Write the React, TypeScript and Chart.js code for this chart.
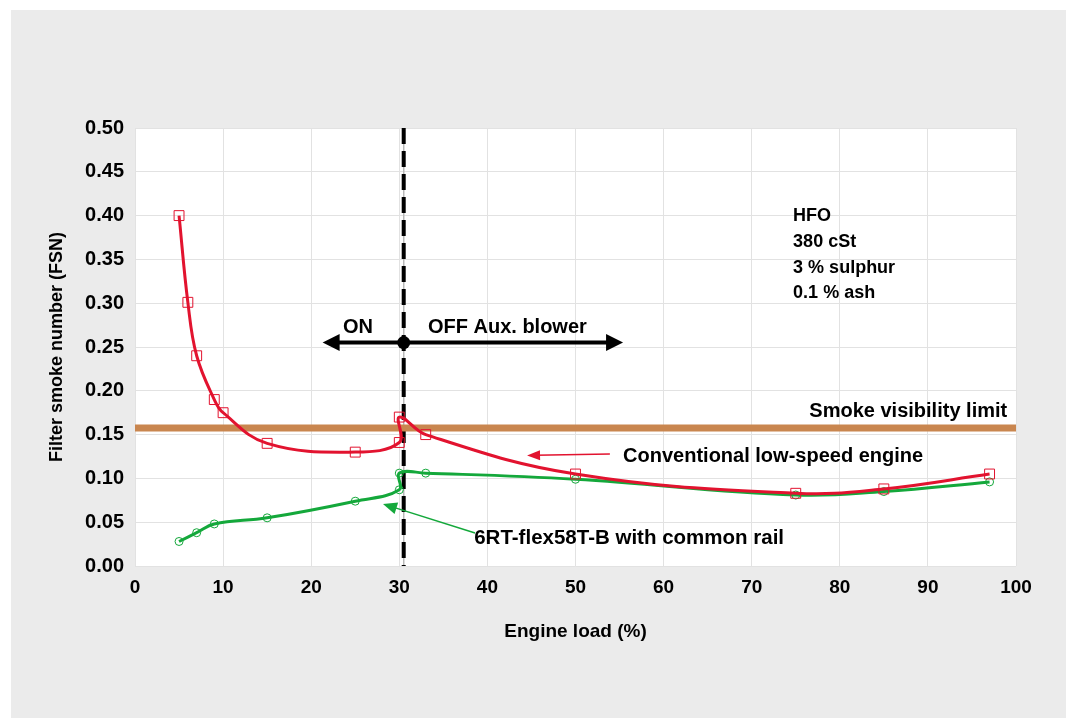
import React, { useEffect, useRef } from "react";
import { Chart, registerables } from "chart.js";

Chart.register(...registerables);

// ---- data ----
const xTicks = [0, 10, 20, 30, 40, 50, 60, 70, 80, 90, 100];
const yTicks = [0, 0.05, 0.1, 0.15, 0.2, 0.25, 0.3, 0.35, 0.4, 0.45, 0.5];

const conventionalLoad = [5, 6, 7, 9, 10, 15, 25, 30, 30, 33, 50, 75, 85, 97];
const conventionalFSN = [0.4, 0.301, 0.24, 0.19, 0.175, 0.14, 0.13, 0.141, 0.17, 0.15, 0.105, 0.083, 0.088, 0.105];

const commonRailLoad = [5, 7, 9, 15, 25, 30, 30, 33, 50, 75, 85, 97];
const commonRailFSN = [0.028, 0.038, 0.048, 0.055, 0.074, 0.087, 0.106, 0.106, 0.099, 0.081, 0.085, 0.096];

const smokeLimit = 0.1575;
const blowerSwitchLoad = 30.5;
const blowerArrowLevel = 0.255;
const fuelInfo = ["HFO", "380 cSt", "3 % sulphur", "0.1 % ash"];
const xTitle = "Engine load (%)";
const yTitle = "Filter smoke number (FSN)";

const RED = "#e2132f";
const GREEN = "#14a83b";
const ORANGE = "#c9864f";

const BOLD = "'Liberation Sans', Arial, Helvetica, sans-serif";

function arrowHead(ctx: CanvasRenderingContext2D, tipX: number, tipY: number, fromX: number, fromY: number, len: number, half: number) {
  const a = Math.atan2(tipY - fromY, tipX - fromX);
  ctx.beginPath();
  ctx.moveTo(tipX, tipY);
  ctx.lineTo(tipX - len * Math.cos(a) + half * Math.sin(a), tipY - len * Math.sin(a) - half * Math.cos(a));
  ctx.lineTo(tipX - len * Math.cos(a) - half * Math.sin(a), tipY - len * Math.sin(a) + half * Math.cos(a));
  ctx.closePath();
  ctx.fill();
}

const plotBg = {
  id: "plotBg",
  beforeDraw(chart: any) {
    const { ctx, chartArea: a } = chart;
    ctx.save();
    ctx.fillStyle = "#ffffff";
    ctx.fillRect(a.left, a.top, a.right - a.left, a.bottom - a.top);
    ctx.restore();
  },
};

const annotations = {
  id: "annotations",
  afterDatasetsDraw(chart: any) {
    const { ctx } = chart;
    const xs = chart.scales.x;
    const ys = chart.scales.y;
    const px = (v: number) => xs.getPixelForValue(v);
    const py = (v: number) => ys.getPixelForValue(v);
    ctx.save();

    // blower arrow
    const ay = py(blowerArrowLevel);
    const lx = px(21.3);
    const rx = px(55.4);
    ctx.strokeStyle = "#000";
    ctx.fillStyle = "#000";
    ctx.lineWidth = 4;
    ctx.beginPath();
    ctx.moveTo(lx + 12, ay);
    ctx.lineTo(rx - 12, ay);
    ctx.stroke();
    arrowHead(ctx, lx, ay, lx + 20, ay, 17, 8.5);
    arrowHead(ctx, rx, ay, rx - 20, ay, 17, 8.5);
    ctx.beginPath();
    ctx.arc(px(blowerSwitchLoad), ay, 6.5, 0, Math.PI * 2);
    ctx.fill();

    ctx.font = `bold 20px ${BOLD}`;
    ctx.textBaseline = "alphabetic";
    ctx.textAlign = "left";
    ctx.fillText("ON", px(23.6), py(0.266));
    ctx.fillText("OFF Aux. blower", px(33.25), py(0.266));

    // fuel info
    ctx.font = `bold 18px ${BOLD}`;
    const fy = [0.3933, 0.3642, 0.335, 0.3065];
    fuelInfo.forEach((t, i) => ctx.fillText(t, px(74.7), py(fy[i])));

    // smoke visibility label
    ctx.font = `bold 20px ${BOLD}`;
    ctx.textAlign = "right";
    ctx.fillText("Smoke visibility limit", px(99.0), py(0.17));

    // conventional label + arrow
    ctx.textAlign = "left";
    ctx.fillText("Conventional low-speed engine", px(55.4), py(0.1187));
    ctx.strokeStyle = RED;
    ctx.fillStyle = RED;
    ctx.lineWidth = 1.5;
    const t1x = px(44.5), t1y = py(0.1262), f1x = px(53.9), f1y = py(0.1279);
    ctx.beginPath();
    ctx.moveTo(f1x, f1y);
    ctx.lineTo(t1x + 8, t1y + (f1y - t1y) * (8 / (f1x - t1x)));
    ctx.stroke();
    arrowHead(ctx, t1x, t1y, f1x, f1y, 13, 5);

    // common rail label + arrow
    ctx.fillStyle = "#000";
    ctx.font = `bold 20.5px ${BOLD}`;
    ctx.fillText("6RT-flex58T-B with common rail", px(38.5), py(0.0251));
    ctx.strokeStyle = GREEN;
    ctx.fillStyle = GREEN;
    const t2x = px(28.15), t2y = py(0.0708), f2x = px(38.6), f2y = py(0.0377);
    const d = Math.hypot(f2x - t2x, f2y - t2y);
    ctx.beginPath();
    ctx.moveTo(f2x, f2y);
    ctx.lineTo(t2x + (f2x - t2x) * (8 / d), t2y + (f2y - t2y) * (8 / d));
    ctx.stroke();
    arrowHead(ctx, t2x, t2y, f2x, f2y, 14, 6);

    ctx.restore();
  },
};

export default function App() {
  const ref = useRef<HTMLCanvasElement>(null);

  useEffect(() => {
    if (!ref.current) return;
    const chart = new Chart(ref.current, {
      type: "scatter",
      data: {
        datasets: [
          {
            label: "Conventional low-speed engine",
            data: conventionalLoad.map((x, i) => ({ x, y: conventionalFSN[i] })),
            showLine: true,
            tension: 0.4,
            borderColor: RED,
            borderWidth: 3,
            pointStyle: "rect",
            pointRadius: 7,
            pointBorderWidth: 1,
            pointBorderColor: RED,
            pointBackgroundColor: "rgba(0,0,0,0)",
          },
          {
            label: "6RT-flex58T-B with common rail",
            data: commonRailLoad.map((x, i) => ({ x, y: commonRailFSN[i] })),
            showLine: true,
            tension: 0.4,
            borderColor: GREEN,
            borderWidth: 3,
            pointStyle: "circle",
            pointRadius: 4,
            pointBorderWidth: 1,
            pointBorderColor: GREEN,
            pointBackgroundColor: "rgba(0,0,0,0)",
          },
          {
            label: "Smoke visibility limit",
            data: [
              { x: 0, y: smokeLimit },
              { x: 100, y: smokeLimit },
            ],
            showLine: true,
            borderColor: ORANGE,
            borderWidth: 7,
            pointRadius: 0,
          },
          {
            label: "switch",
            data: [
              { x: blowerSwitchLoad, y: 0.5 },
              { x: blowerSwitchLoad, y: 0 },
            ],
            showLine: true,
            borderColor: "#000",
            borderWidth: 4,
            borderDash: [16, 7],
            pointRadius: 0,
          },
          {
            label: "switch-thin",
            data: [
              { x: blowerSwitchLoad, y: 0.5 },
              { x: blowerSwitchLoad, y: 0 },
            ],
            showLine: true,
            borderColor: "#b8b8b8",
            borderWidth: 1,
            pointRadius: 0,
          },
        ],
      },
      options: {
        responsive: false,
        animation: false,
        events: [],
        layout: { padding: { left: 20, right: 50, top: 118, bottom: 60 } },
        plugins: {
          legend: { display: false },
          tooltip: { enabled: false },
          title: { display: false },
        },
        scales: {
          x: {
            type: "linear",
            min: 0,
            max: 100,
            afterBuildTicks: (s: any) => {
              s.ticks = xTicks.map((v) => ({ value: v }));
            },
            afterFit: (s: any) => {
              s.height = 92;
            },
            grid: { color: "#e2e2e2", lineWidth: 1, drawTicks: false },
            border: { display: false },
            ticks: {
              padding: 10,
              color: "#000",
              font: { family: BOLD, size: 19, weight: "bold" },
              callback: (v: any) => String(v),
            },
            title: {
              display: true,
              text: xTitle,
              color: "#000",
              font: { family: BOLD, size: 19, weight: "bold" },
              padding: { top: 0, bottom: 15 },
            },
          },
          y: {
            type: "linear",
            min: 0,
            max: 0.5,
            afterBuildTicks: (s: any) => {
              s.ticks = yTicks.map((v) => ({ value: v }));
            },
            afterFit: (s: any) => {
              s.width = 104;
            },
            grid: { color: "#e2e2e2", lineWidth: 1, drawTicks: false },
            border: { display: false },
            ticks: {
              padding: 11,
              color: "#000",
              font: { family: BOLD, size: 20, weight: "bold" },
              callback: (v: any) => Number(v).toFixed(2),
            },
            title: {
              display: true,
              text: yTitle,
              color: "#000",
              font: { family: BOLD, size: 18, weight: "bold" },
              padding: { top: 15, bottom: 0 },
            },
          },
        },
      },
      plugins: [plotBg, annotations],
    });
    return () => chart.destroy();
  }, []);

  return (
    <div style={{ position: "fixed", left: 0, top: 0, width: 1066, height: 718, background: "#ffffff" }}>
      <div style={{ position: "absolute", left: 11, top: 10, width: 1055, height: 708, background: "#ebebeb" }}>
        <canvas ref={ref} width={1055} height={708} style={{ display: "block", width: 1055, height: 708 }} />
      </div>
    </div>
  );
}
